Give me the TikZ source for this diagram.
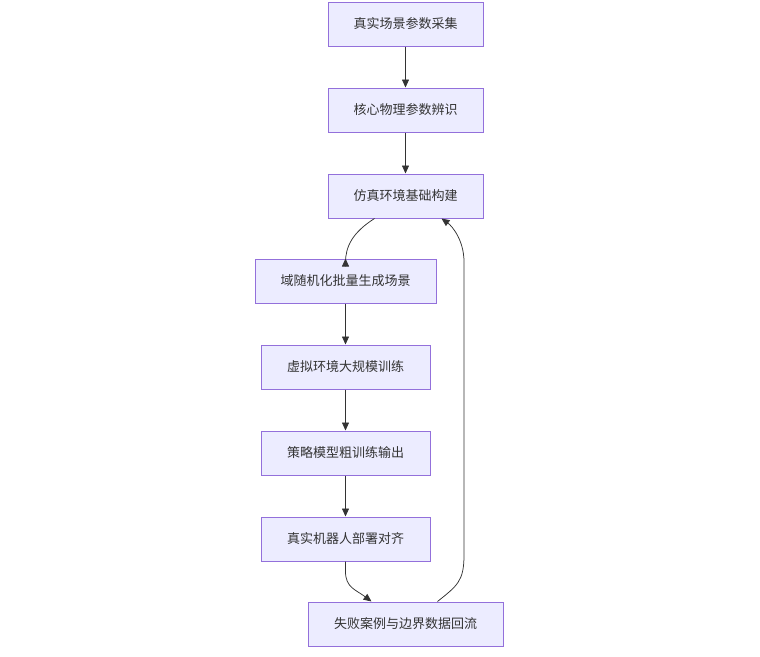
\documentclass[tikz,border=0pt]{standalone}
\usepackage{fontspec}
\newfontfamily\cjk{Noto Sans CJK SC}
\usetikzlibrary{arrows.meta}
\definecolor{nodefill}{HTML}{ECECFF}
\definecolor{nodeline}{HTML}{9370DB}
\definecolor{txt}{HTML}{333333}
\begin{document}
\begin{tikzpicture}[x=1pt,y=-1pt,
  box/.style={draw=nodeline, fill=nodefill, line width=1pt, minimum height=44pt,
    inner sep=0pt, font=\cjk\fontsize{13}{15}\selectfont, text=txt},
  arr/.style={draw=txt, line width=0.75pt, -{Triangle[length=8pt,width=7pt]}}]
\useasboundingbox (0,0) rectangle (760,656);
\node[box, minimum width=155pt] (b1) at (405.5,24) {真实场景参数采集};
\node[box, minimum width=155pt] (b2) at (405.5,110) {核心物理参数辨识};
\node[box, minimum width=155pt] (b3) at (405.5,196) {仿真环境基础构建};
\node[box, minimum width=181pt] (b4) at (345.5,281) {域随机化批量生成场景};
\node[box, minimum width=169pt] (b5) at (345.5,367) {虚拟环境大规模训练};
\node[box, minimum width=169pt] (b6) at (345.5,453) {策略模型粗训练输出};
\node[box, minimum width=169pt] (b7) at (345.5,539) {真实机器人部署对齐};
\node[box, minimum width=195pt] (b8) at (405.5,624) {失败案例与边界数据回流};
\draw[arr] (b1) -- (b2);
\draw[arr] (b2) -- (b3);
\draw[arr] ([xshift=-31pt]b3.south) .. controls +(-22,14) and +(0,-16) .. ([yshift=-4pt]b4.north) -- (b4.north);
\draw[arr] (b4) -- (b5);
\draw[arr] (b5) -- (b6);
\draw[arr] (b6) -- (b7);
\draw[arr] (b7.south) -- ++(0,10) .. controls +(0,16) and +(-16,-12) .. ([xshift=-34pt]b8.north);
\draw[arr] ([xshift=32pt]b8.north) .. controls +(20,-16) and +(0,26) .. (464,555) -- (464,262)
  .. controls (464,240) and (452,226) .. ([xshift=36pt]b3.south);
\end{tikzpicture}
\end{document}
